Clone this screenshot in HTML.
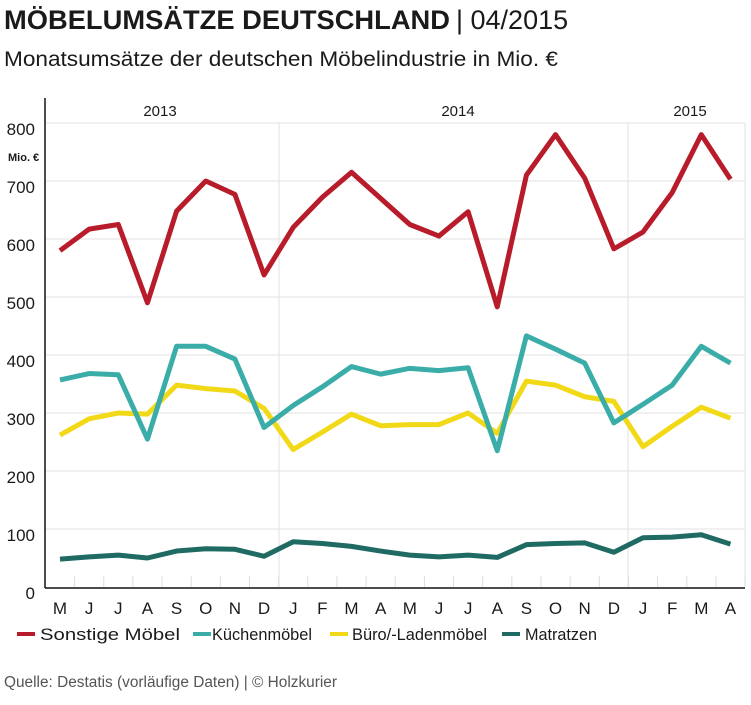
<!DOCTYPE html><html><head><meta charset="utf-8"><style>
body{margin:0;background:#fff;width:751px;height:700px;overflow:hidden;font-family:"Liberation Sans",sans-serif}
</style></head><body>
<svg width="751" height="700" xmlns="http://www.w3.org/2000/svg" font-family="Liberation Sans, sans-serif">
<text x="4" y="29" font-size="27" font-weight="bold" fill="#1a1a1a" textLength="446" lengthAdjust="spacingAndGlyphs">MÖBELUMSÄTZE DEUTSCHLAND</text>
<text x="456" y="29" font-size="27" fill="#1a1a1a">| 04/2015</text>
<text x="4" y="66" font-size="21" fill="#1a1a1a" textLength="554" lengthAdjust="spacingAndGlyphs">Monatsumsätze der deutschen Möbelindustrie in Mio. €</text>
<g stroke="#e2e2e2" stroke-width="1">
<line x1="45" y1="123" x2="745" y2="123"/><line x1="45" y1="181" x2="745" y2="181"/><line x1="45" y1="239" x2="745" y2="239"/><line x1="45" y1="297" x2="745" y2="297"/><line x1="45" y1="355" x2="745" y2="355"/><line x1="45" y1="413" x2="745" y2="413"/><line x1="45" y1="471" x2="745" y2="471"/><line x1="45" y1="529" x2="745" y2="529"/>
<line x1="279" y1="123" x2="279" y2="587"/><line x1="628" y1="123" x2="628" y2="587"/><line x1="745" y1="123" x2="745" y2="587"/>
</g>
<g stroke="#ddd" stroke-width="1" id="ticks"></g>
<line x1="45" y1="98" x2="45" y2="588" stroke="#111" stroke-width="1.5"/>
<line x1="45" y1="588" x2="745" y2="588" stroke="#111" stroke-width="1.5"/>
<g font-size="17" fill="#1a1a1a" text-anchor="end">
<text x="35" y="135">800</text><text x="35" y="193">700</text><text x="35" y="251">600</text><text x="35" y="309">500</text><text x="35" y="367">400</text><text x="35" y="425">300</text><text x="35" y="483">200</text><text x="35" y="541">100</text><text x="35" y="599">0</text>
</g>
<text x="8" y="161" font-size="11" font-weight="bold" fill="#1a1a1a">Mio. €</text>
<g font-size="15" fill="#1a1a1a" text-anchor="middle"><text x="160" y="116">2013</text><text x="458" y="116">2014</text><text x="690" y="116">2015</text></g>
<g id="mon" font-size="17" fill="#1a1a1a" text-anchor="middle"></g>
<g fill="none" stroke-width="5" stroke-linejoin="round" id="series"></g>
<g font-size="17" fill="#1a1a1a">
<rect x="17" y="632" width="18" height="4" fill="#b81c2b"/><text x="40" y="640" textLength="140" lengthAdjust="spacingAndGlyphs">Sonstige Möbel</text>
<rect x="193" y="632" width="18" height="4" fill="#3aada8"/><text x="212" y="640" textLength="100" lengthAdjust="spacingAndGlyphs">Küchenmöbel</text>
<rect x="330" y="632" width="18" height="4" fill="#f2d918"/><text x="352" y="640" textLength="135" lengthAdjust="spacingAndGlyphs">Büro/-Ladenmöbel</text>
<rect x="502" y="632" width="18" height="4" fill="#1f6b63"/><text x="525" y="640" textLength="72" lengthAdjust="spacingAndGlyphs">Matratzen</text>
</g>
<text x="4" y="687" font-size="15.5" fill="#555" textLength="333" lengthAdjust="spacingAndGlyphs">Quelle: Destatis (vorläufige Daten) | © Holzkurier</text>
<script>
var ns="http://www.w3.org/2000/svg";
var m="MJJASONDJFMAMJJASONDJFMA";
function X(i){return 60+i*29.15}
function Y(v){return 587-v*0.58}
var mon=document.getElementById("mon"),tk=document.getElementById("ticks");
for(var i=0;i<24;i++){var t=document.createElementNS(ns,"text");t.setAttribute("x",X(i));t.setAttribute("y",614);t.textContent=m[i];mon.appendChild(t);
var l=document.createElementNS(ns,"line");l.setAttribute("x1",X(i)+14.6);l.setAttribute("x2",X(i)+14.6);l.setAttribute("y1",576);l.setAttribute("y2",587);tk.appendChild(l);}
var S=[["#b81c2b",[580,617,625,490,648,700,677,538,620,672,715,670,625,605,647,483,710,780,705,583,612,680,780,703]],
["#3aada8",[357,368,366,255,415,415,393,275,313,345,380,367,377,373,378,235,433,410,386,283,315,348,415,386]],
["#f2d918",[262,290,300,298,348,342,338,308,237,267,298,278,280,280,300,265,355,348,328,320,242,277,310,291]],
["#1f6b63",[48,52,55,50,62,66,65,53,78,75,70,62,55,52,55,51,73,75,76,60,85,86,90,74]]];
var g=document.getElementById("series");
S.reverse().forEach(function(s){var p=document.createElementNS(ns,"polyline");p.setAttribute("stroke",s[0]);
p.setAttribute("points",s[1].map(function(v,i){return X(i)+","+Y(v)}).join(" "));g.appendChild(p);});
</script>
</svg>
</body></html>
